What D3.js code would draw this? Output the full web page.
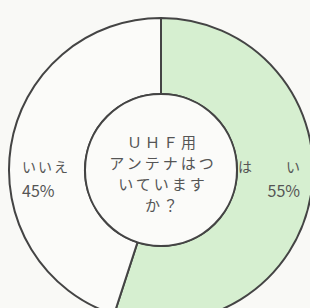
<!DOCTYPE html>
<html>
<head>
<meta charset="utf-8">
<script src="https://cdn.jsdelivr.net/npm/d3@7"></script>
<style>
  html, body { margin: 0; padding: 0; background: #f9f9f6; }
  text { font-family: "Noto Sans CJK JP", sans-serif; fill: #555; }
</style>
</head>
<body>
<script>

let width = 310;
let height = 308;

// answers and share (%)
let answers = ["は　　い", "いいえ"];
let shares = [55, 45];
let shareLabels = ["55%", "45%"];
let colors = ["#d6efd0", "#fbfbf9"];

// question in the middle
let questionLines = ["ＵＨＦ用", "アンテナはつ", "いています", "か？"];

let cx = 161;
let cy = 170;

let svg = d3.select("body")
	.append("svg")
		.attr("width", width)
		.attr("height", height);

let g = svg.append("g")
	.attr("transform", "translate(" + cx + "," + cy + ")");

let pie = d3.pie()
	.sort(null)
	.value(d => d);

let arc = d3.arc()
	.innerRadius(76)
	.outerRadius(152);

g.selectAll("path.slice")
	.data(pie(shares))
	.enter()
	.append("path")
		.attr("class", "slice")
		.attr("d", arc)
		.style("fill", (d, i) => colors[i])
		.style("stroke", "#444")
		.style("stroke-width", 2);

// inner circle
g.append("circle")
	.attr("r", 76)
	.style("fill", "#fbfbf9")
	.style("stroke", "#444")
	.style("stroke-width", 2);

// question text
g.selectAll("text.q")
	.data(questionLines)
	.enter()
	.append("text")
		.attr("class", "q")
		.attr("text-anchor", "middle")
		.attr("x", 2)
		.attr("y", (d, i) => -22 + i * 21)
		.style("font-size", "15px")
		.style("letter-spacing", "3px")
		.text(d => d);

// slice labels
let labelX = [141, -139];
let pctX = [139, -139];
let anchors = ["end", "start"];

g.selectAll("text.name")
	.data(answers)
	.enter()
	.append("text")
		.attr("class", "name")
		.attr("x", (d, i) => labelX[i])
		.attr("y", 2)
		.attr("text-anchor", (d, i) => anchors[i])
		.style("font-size", "14px")
		.style("letter-spacing", "2px")
		.text(d => d);

g.selectAll("text.pct")
	.data(shareLabels)
	.enter()
	.append("text")
		.attr("class", "pct")
		.attr("x", (d, i) => pctX[i])
		.attr("y", 27)
		.attr("text-anchor", (d, i) => anchors[i])
		.style("font-size", "16px")
		.text(d => d);

</script>
</body>
</html>
